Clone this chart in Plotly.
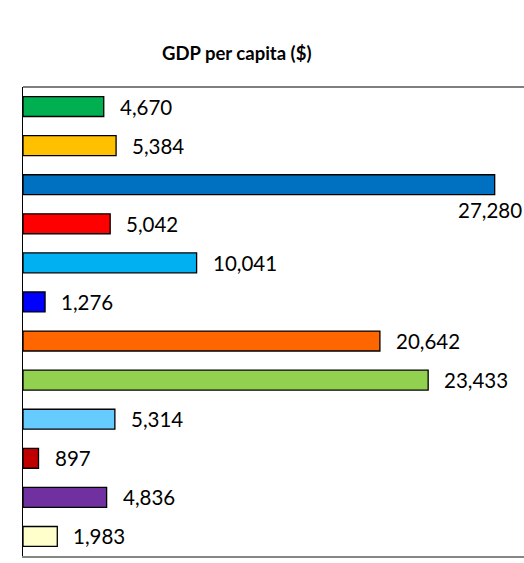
import plotly.graph_objects as go

# GDP per capita by economy, top to bottom
categories = ["E1", "E2", "E3", "E4", "E5", "E6", "E7", "E8", "E9", "E10", "E11", "E12"]
gdp_per_capita = [4670, 5384, 27280, 5042, 10041, 1276, 20642, 23433, 5314, 897, 4836, 1983]
bar_colors = ["#00B050", "#FFC000", "#0070C0", "#FF0000", "#00B0F0", "#0000FF",
              "#FF6600", "#92D050", "#66CCFF", "#C00000", "#7030A0", "#FFFFCC"]

label_font = dict(family="Lato, Carlito, Calibri, sans-serif", size=20.5, color="#000000")

fig = go.Figure(
    go.Bar(
        x=gdp_per_capita,
        y=categories,
        orientation="h",
        marker=dict(color=bar_colors, line=dict(color="#000000", width=1.3)),
        hoverinfo="x",
    )
)

# value labels just beyond the end of each bar; the longest one sits below its bar
annotations = []
top_value = max(gdp_per_capita)
for cat, val in zip(categories, gdp_per_capita):
    if val == top_value:
        annotations.append(dict(x=val, y=cat, xref="x", yref="y", text=f"{val:,}",
                                showarrow=False, xanchor="right", yanchor="middle",
                                xshift=29, yshift=-25, font=label_font))
    else:
        annotations.append(dict(x=val, y=cat, xref="x", yref="y", text=f"{val:,}",
                                showarrow=False, xanchor="left", yanchor="middle",
                                xshift=14, font=label_font))

# chart title above the plot area
annotations.append(dict(x=(236.5 - 23) / 501, y=(556 - 53) / 469, xref="paper", yref="paper",
                        text="<b>GDP per capita ($)</b>", showarrow=False,
                        xanchor="center", yanchor="middle",
                        font=dict(family="Lato, Carlito, Calibri, sans-serif",
                                  size=18.5, color="#000000")))

fig.update_layout(
    width=524,
    height=563,
    margin=dict(l=23, r=0, t=87, b=7),
    paper_bgcolor="#FFFFFF",
    plot_bgcolor="#FFFFFF",
    showlegend=False,
    bargap=0.49,
    annotations=annotations,
    shapes=[dict(type="line", xref="paper", yref="paper", x0=0, x1=1, y0=1, y1=1,
                 line=dict(color="#000000", width=1.2))],
    xaxis=dict(range=[0, 28976], showgrid=False, zeroline=False, showticklabels=False,
               ticks="", showline=True, linecolor="#868686", linewidth=1.5),
    yaxis=dict(autorange="reversed", showgrid=False, zeroline=False, showticklabels=False,
               ticks="", showline=True, linecolor="#000000", linewidth=1.2),
)

fig.write_html("out.html")
